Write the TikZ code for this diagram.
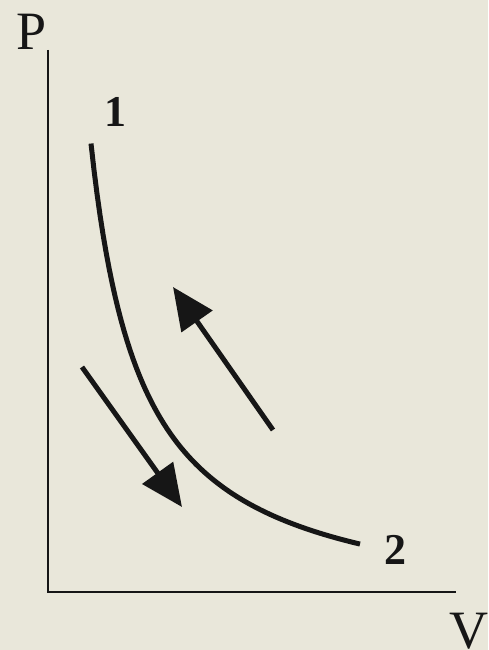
\documentclass[tikz,border=0pt]{standalone}
\usepackage{fontspec}
\setmainfont{Liberation Serif}
\usetikzlibrary{arrows.meta}
\definecolor{paper}{RGB}{233,231,218}
\definecolor{ink}{RGB}{22,22,22}
\begin{document}
\begin{tikzpicture}[x=1pt, y=-1pt, >={Triangle[length=42pt,width=37pt]},
    axislabel/.style={inner sep=0pt, text=ink, font=\fontsize{54}{54}\selectfont},
    pointlabel/.style={inner sep=0pt, text=ink, font=\fontsize{44}{44}\selectfont\bfseries}]
    \fill[paper] (0,0) rectangle (488,650);
    \useasboundingbox (0,0) rectangle (488,650);
    % 坐标轴
    \coordinate (O) at (48,592);
    \coordinate (ptop) at (48,50);
    \coordinate (vend) at (456,592);
    \draw[ink, line width=2.5pt] (ptop) -- (O) -- (vend);
    \node[axislabel] (P) at (32,32) {P};
    \node[axislabel] (V) at (469,631) {V};

    % 等温线 1 -> 2
    \draw[ink, line width=5pt, line cap=butt] plot[domain=91:360, samples=90]
        (\x, {620-100*(243/(\x-40))});
    \node[pointlabel] (n1) at (115,112) {1};
    \node[pointlabel] (n2) at (395,550) {2};

    % 过程方向
    \coordinate (dtail) at (82,367);
    \coordinate (dtip) at (182,507);
    \draw[->, ink, line width=5pt] (dtail) -- (dtip);
    \coordinate (utail) at (273,430);
    \coordinate (utip) at (173,287);
    \draw[->, ink, line width=5pt] (utail) -- (utip);
\end{tikzpicture}
\end{document}
